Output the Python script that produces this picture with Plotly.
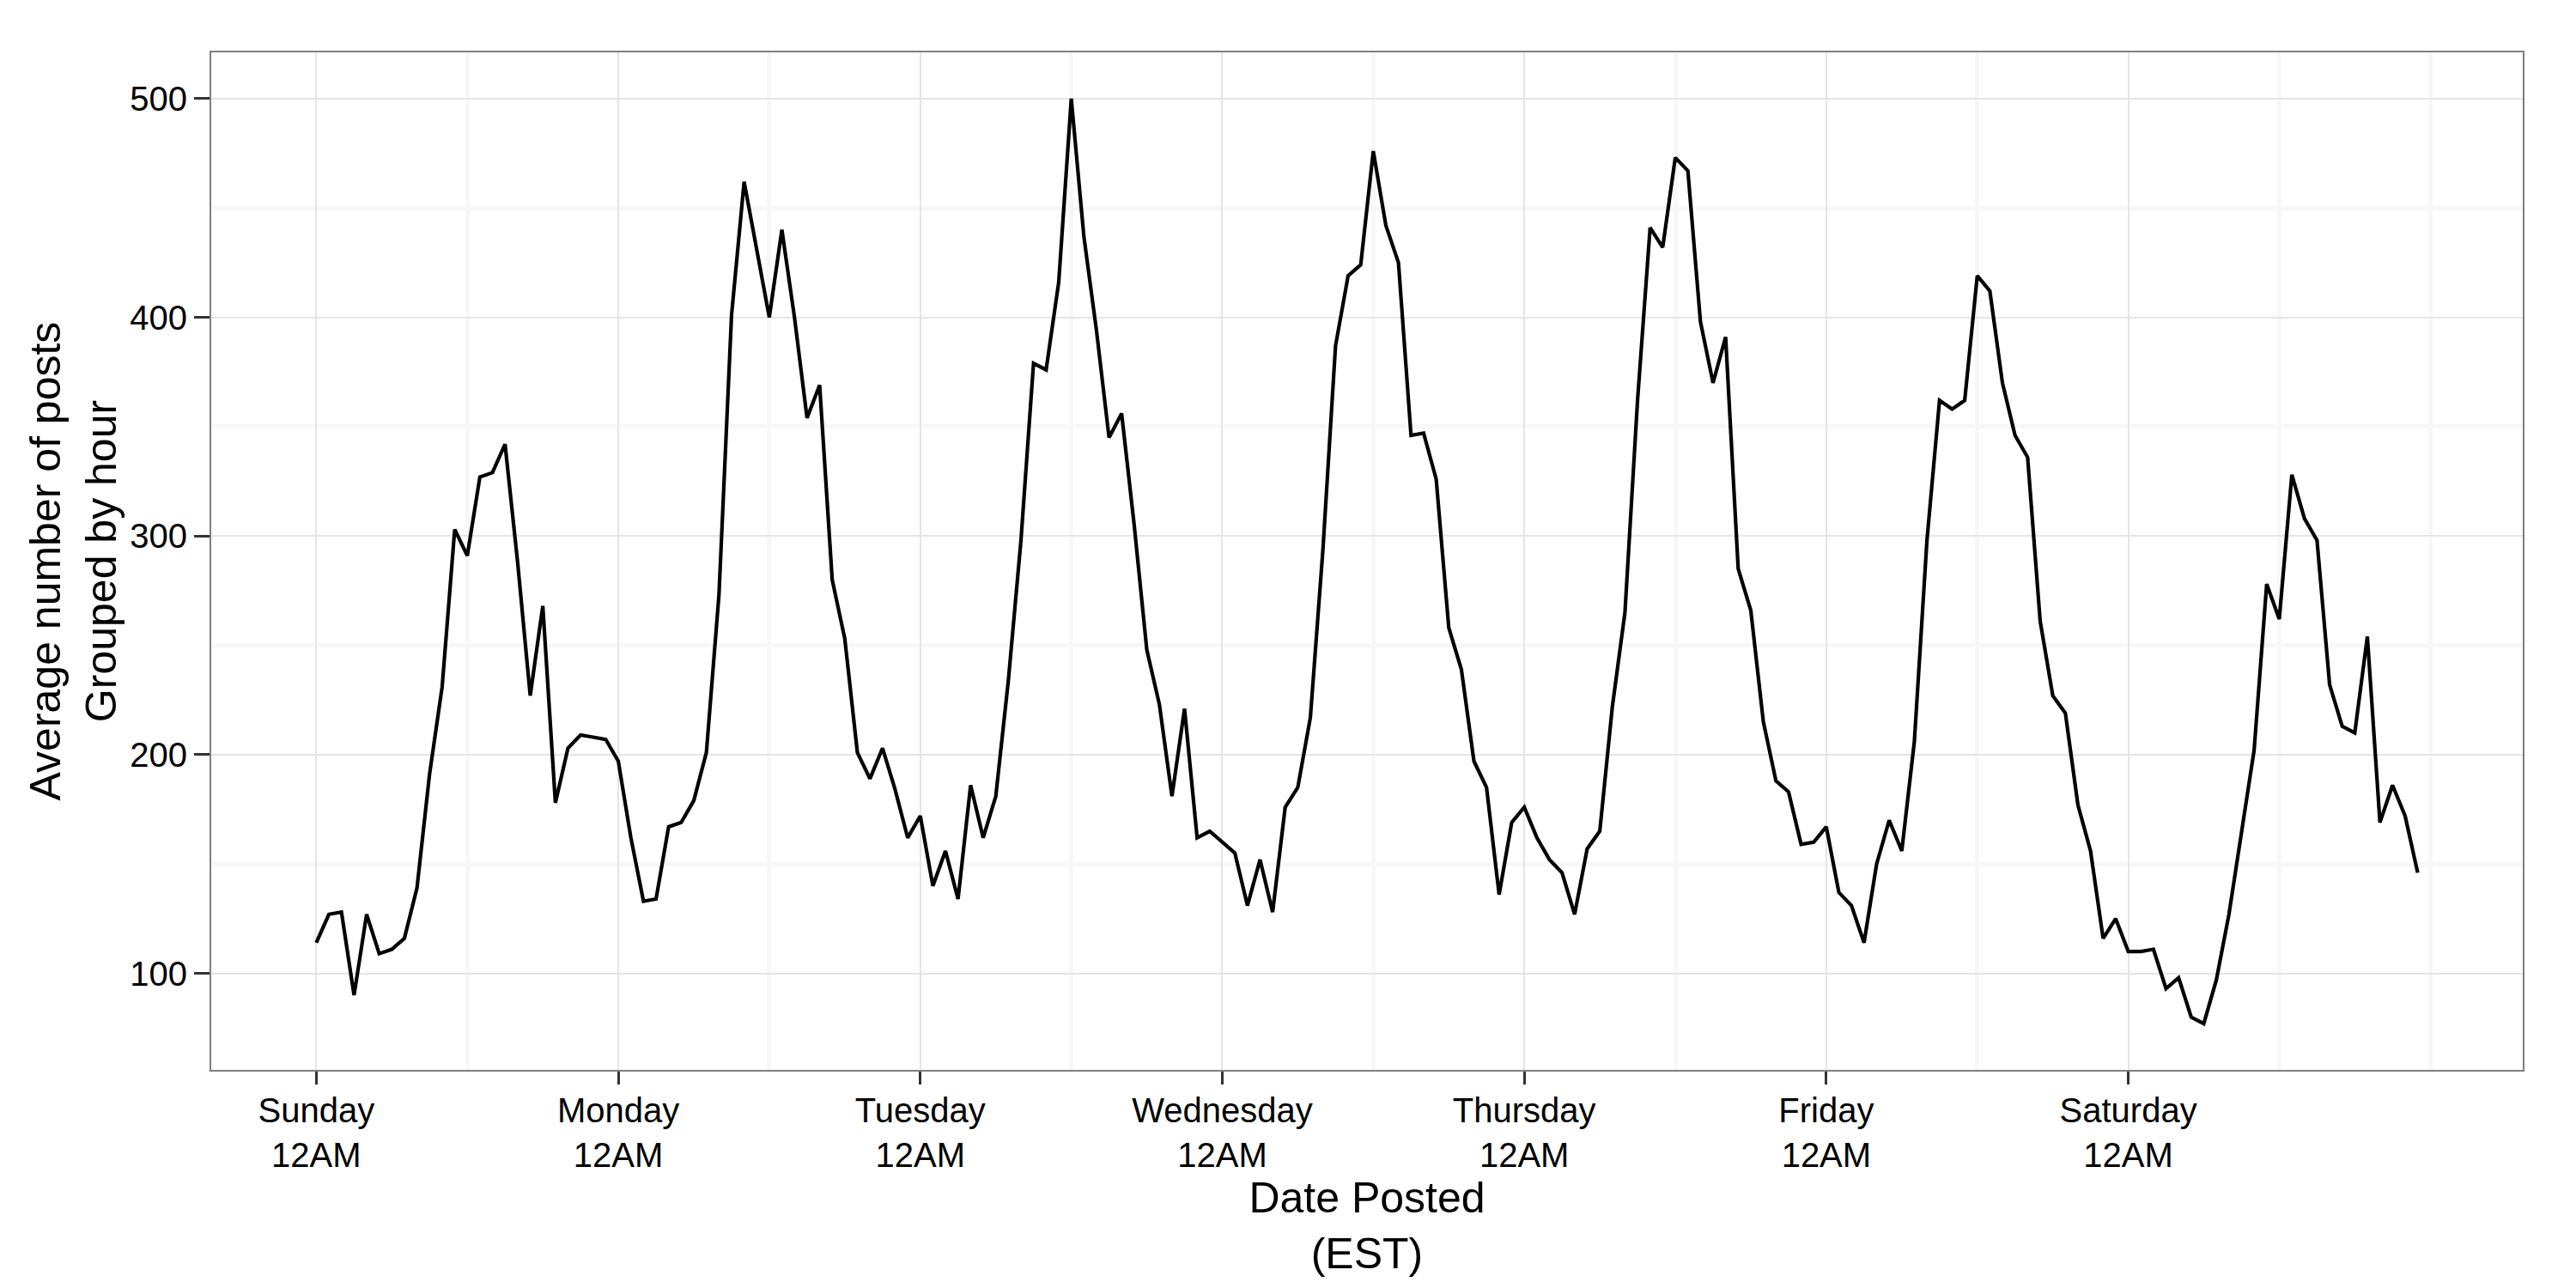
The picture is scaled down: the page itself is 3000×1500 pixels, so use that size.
import plotly.graph_objects as go

# Average number of posts per hour (hour 0 = 12AM)
sunday = [114, 127, 128, 90, 127, 109, 111, 116, 139, 191, 231, 303,
          291, 327, 329, 342, 288, 227, 268, 178, 203, 209, 208, 207]
monday = [197, 162, 133, 134, 167, 169, 179, 201, 273, 401, 462, 431,
          400, 440, 400, 354, 369, 280, 253, 201, 189, 203, 184, 162]
tuesday = [172, 140, 156, 134, 186, 162, 181, 234, 298, 379, 376, 416,
           500, 437, 394, 345, 356, 305, 248, 223, 181, 221, 162, 165]
wednesday = [160, 155, 131, 152, 128, 176, 185, 217, 294, 387, 419, 424,
             476, 442, 425, 346, 347, 326, 258, 239, 197, 185, 136, 169]
thursday = [176, 162, 152, 146, 127, 157, 165, 222, 265, 362, 441, 432,
            473, 467, 398, 370, 391, 285, 266, 215, 188, 183, 159, 160]
friday = [167, 137, 131, 114, 150, 170, 156, 206, 298, 362, 358, 362,
          419, 412, 370, 346, 336, 261, 227, 219, 177, 156, 116, 125]
saturday = [110, 110, 111, 93, 98, 80, 77, 97, 127, 164, 202, 278,
            262, 328, 308, 298, 232, 213, 210, 254, 169, 186, 172, 146]

day_names = ["Sunday", "Monday", "Tuesday", "Wednesday", "Thursday", "Friday", "Saturday"]
y_ticks = [100, 200, 300, 400, 500]

days = [sunday, monday, tuesday, wednesday, thursday, friday, saturday]
values = [v for d in days for v in d]
hours = list(range(len(values)))

x_tickvals = [24 * i for i in range(len(day_names))]
x_ticktext = [f"{d}<br>12AM" for d in day_names]
x_minor = [24 * i + 12 for i in range(len(day_names))] + [24 * len(day_names)]
y_minor = [150, 250, 350, 450]

# ggplot-style 5% expansion
xmin, xmax = min(hours), max(hours)
ymin, ymax = min(values), max(values)
xpad = 0.05 * (xmax - xmin)
ypad = 0.05 * (ymax - ymin)

FONT = "Liberation Sans, Arial, sans-serif"

fig = go.Figure()
fig.add_trace(go.Scatter(
    x=hours, y=values, mode="lines",
    line=dict(color="black", width=4.2),
    hoverinfo="x+y", showlegend=False,
))

fig.update_layout(
    width=3000, height=1500,
    paper_bgcolor="white", plot_bgcolor="white",
    margin=dict(l=238, r=70, t=53, b=262),
    font=dict(family=FONT, color="black"),
)

fig.update_xaxes(
    range=[xmin - xpad, xmax + xpad],
    tickmode="array", tickvals=x_tickvals, ticktext=x_ticktext,
    tickfont=dict(size=40, color="black"),
    ticks="outside", ticklen=15, tickwidth=3, tickcolor="#333333",
    ticklabelstandoff=-4,
    showgrid=True, gridcolor="#E5E5E5", gridwidth=2,
    minor=dict(tickmode="array", tickvals=x_minor, showgrid=True,
               gridcolor="#F7F7F7", gridwidth=5, ticks=""),
    showline=True, linecolor="#7F7F7F", linewidth=2, mirror=True,
    zeroline=False,
    title=dict(text="Date Posted<br>(EST)", font=dict(size=50, color="black"), standoff=0),
)

fig.update_yaxes(
    range=[ymin - ypad, ymax + ypad],
    tickmode="array", tickvals=y_ticks,
    tickfont=dict(size=40, color="black"),
    ticks="outside", ticklen=18, tickwidth=3, tickcolor="#333333",
    showgrid=True, gridcolor="#E5E5E5", gridwidth=2,
    minor=dict(tickmode="array", tickvals=y_minor, showgrid=True,
               gridcolor="#F7F7F7", gridwidth=5, ticks=""),
    showline=True, linecolor="#7F7F7F", linewidth=2, mirror=True,
    zeroline=False,
    title=dict(text="Average number of posts<br>Grouped by hour",
               font=dict(size=50, color="black"), standoff=0),
)

fig.write_html("out.html")
